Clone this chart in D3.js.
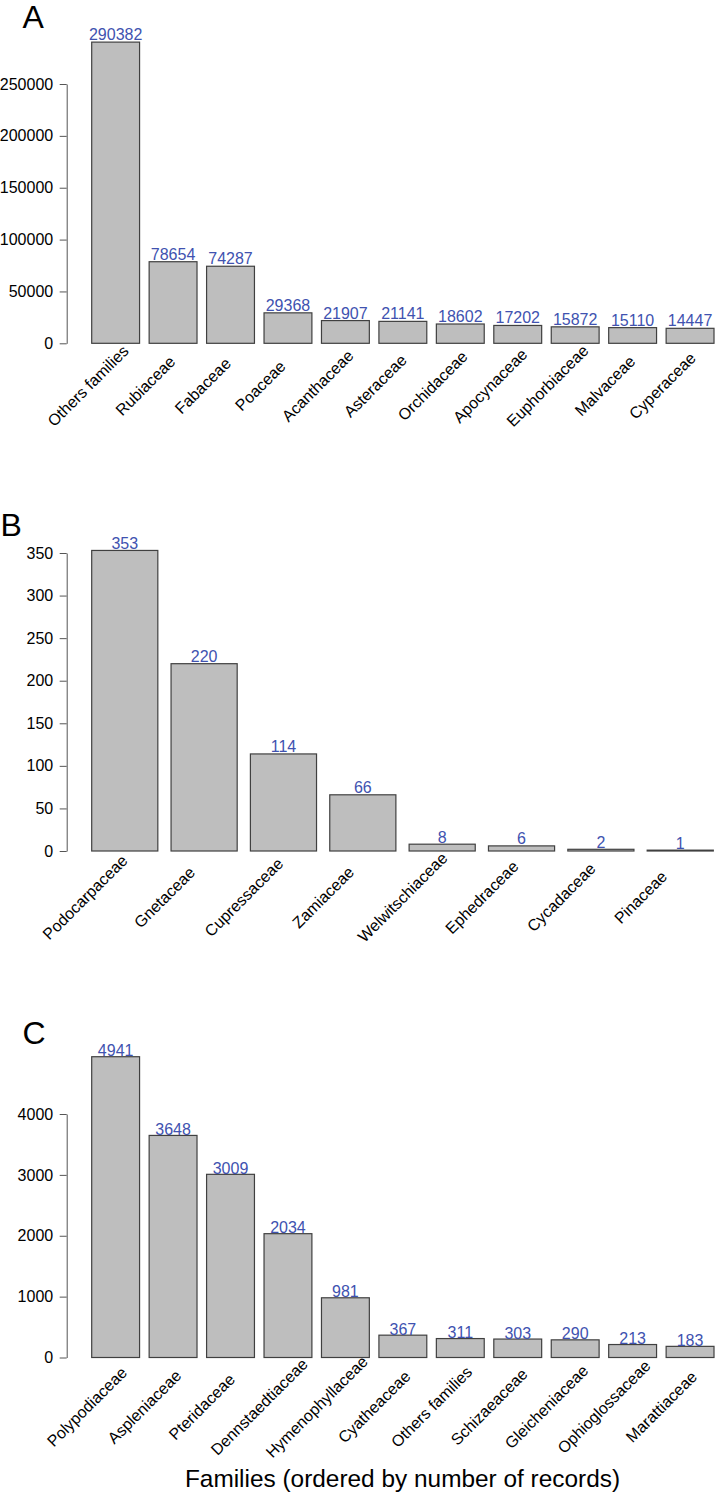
<!DOCTYPE html>
<html>
<head>
<meta charset="utf-8">
<script src="https://cdn.jsdelivr.net/npm/d3@7"></script>
<style>
  html, body { margin: 0; padding: 0; background: #fff; }
  svg { display: block; font-family: "Liberation Sans", Arial, sans-serif; }
</style>
</head>
<body>
<svg id="chart" width="720" height="1498"></svg>
<script>
// ---- Data ----
const familiesA = ["Others families", "Rubiaceae", "Fabaceae", "Poaceae", "Acanthaceae", "Asteraceae",
  "Orchidaceae", "Apocynaceae", "Euphorbiaceae", "Malvaceae", "Cyperaceae"];
const recordsA = [290382, 78654, 74287, 29368, 21907, 21141, 18602, 17202, 15872, 15110, 14447];
const ticksA = [0, 50000, 100000, 150000, 200000, 250000];

const familiesB = ["Podocarpaceae", "Gnetaceae", "Cupressaceae", "Zamiaceae", "Welwitschiaceae",
  "Ephedraceae", "Cycadaceae", "Pinaceae"];
const recordsB = [353, 220, 114, 66, 8, 6, 2, 1];
const ticksB = [0, 50, 100, 150, 200, 250, 300, 350];

const familiesC = ["Polypodiaceae", "Aspleniaceae", "Pteridaceae", "Dennstaedtiaceae", "Hymenophyllaceae",
  "Cyatheaceae", "Others families", "Schizaeaceae", "Gleicheniaceae", "Ophioglossaceae", "Marattiaceae"];
const recordsC = [4941, 3648, 3009, 2034, 981, 367, 311, 303, 290, 213, 183];
const ticksC = [0, 1000, 2000, 3000, 4000];

const panelLetters = ["A", "B", "C"];
const xTitle = "Families (ordered by number of records)";

// ---- Drawing ----
const svg = d3.select("#chart");

function drawPanel(cats, vals, ticks, o) {
  const g = svg.append("g");
  const x = d3.scaleBand().domain(cats).range([o.x0, o.x1]).paddingInner(0.1667).paddingOuter(0);
  const y = d3.scaleLinear().domain([0, d3.max(ticks)]).range([o.yBase, o.yTop]);

  // bars
  g.selectAll("rect.bar").data(vals).join("rect")
    .attr("class", "bar")
    .attr("x", (d, i) => x(cats[i]))
    .attr("width", x.bandwidth())
    .attr("y", d => y(d))
    .attr("height", d => Math.max(0.8, y(0) - y(d)))
    .attr("fill", "#bebebe")
    .attr("stroke", "#404040")
    .attr("stroke-width", 1.2);

  // value labels
  g.selectAll("text.val").data(vals).join("text")
    .attr("class", "val")
    .attr("x", (d, i) => x(cats[i]) + x.bandwidth() / 2)
    .attr("y", d => y(d) - o.valGap)
    .attr("text-anchor", "middle")
    .attr("font-size", 16)
    .attr("fill", "#4052b0")
    .text(d => d);

  // y axis
  const axis = d3.axisLeft(y).tickValues(ticks).tickSize(7).tickSizeOuter(0)
    .tickPadding(6.5).tickFormat(d3.format("d"));
  const ag = g.append("g").attr("transform", `translate(${o.axisX},0)`).call(axis);
  ag.attr("font-size", 16).attr("font-family", "'Liberation Sans', Arial, sans-serif");
  ag.select(".domain").attr("stroke", "#555").attr("stroke-width", 1);
  ag.selectAll(".tick line").attr("stroke", "#555").attr("stroke-width", 1);
  ag.selectAll(".tick text").attr("font-size", 16).attr("fill", "#000");

  // category labels, rotated 45 degrees, centred
  g.selectAll("text.cat").data(cats).join("text")
    .attr("class", "cat")
    .attr("transform", d => {
      const cx = x(d) + x.bandwidth() / 2 + o.labDx;
      const cy = y(0) + o.labDy;
      return `translate(${cx},${cy}) rotate(-45)`;
    })
    .attr("text-anchor", "middle")
    .attr("dy", "0.33em")
    .attr("font-size", 16)
    .attr("fill", "#000")
    .text(d => d);

  // panel letter
  svg.append("text")
    .attr("x", o.letterX).attr("y", o.letterY)
    .attr("font-size", 32)
    .attr("fill", "#000")
    .text(o.letter);
}

drawPanel(familiesA, recordsA, ticksA, {
  x0: 91.7, x1: 714, yBase: 343.3, yTop: 84, axisX: 66.7, valGap: 2,
  labDx: -27.5, labDy: 42.7, letter: panelLetters[0], letterX: 22.5, letterY: 28.3
});
drawPanel(familiesB, recordsB, ticksB, {
  x0: 91.7, x1: 713.3, yBase: 851, yTop: 553, axisX: 66.7, valGap: 1.5,
  labDx: -39.5, labDy: 46.5, letter: panelLetters[1], letterX: 0.5, letterY: 535.7
});
drawPanel(familiesC, recordsC, ticksC, {
  x0: 91.7, x1: 714, yBase: 1357.5, yTop: 1114, axisX: 66.7, valGap: 0.5,
  labDx: -28.5, labDy: 49.5, letter: panelLetters[2], letterX: 22.5, letterY: 1043.5
});

svg.append("text")
  .attr("x", 402.5).attr("y", 1486.5)
  .attr("text-anchor", "middle")
  .attr("font-size", 24.4)
  .attr("fill", "#000")
  .text(xTitle);
</script>
</body>
</html>
